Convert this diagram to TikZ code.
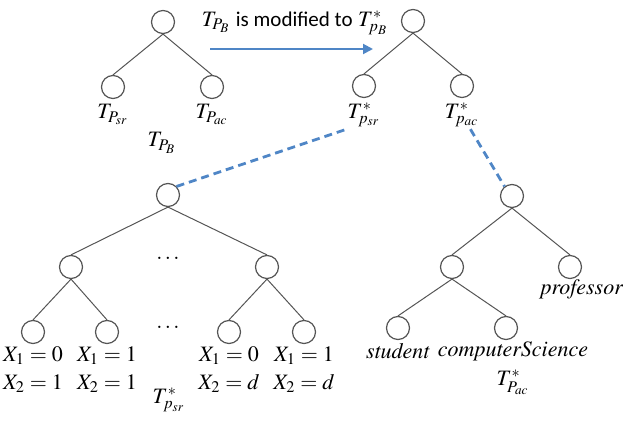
\documentclass[tikz,border=0pt]{standalone}
\usepackage{mathptmx}
\usepackage[no-math]{fontspec}
\setmainfont{Liberation Serif}
\newfontfamily\calibri{Carlito}
\usetikzlibrary{arrows.meta,positioning,calc}
\definecolor{edgegray}{RGB}{85,85,85}
\definecolor{linkblue}{RGB}{79,134,198}
\tikzset{
  nd/.style={circle, draw=edgegray, line width=0.6pt, minimum size=11.5pt, inner sep=0pt},
  br/.style={edgegray, line width=0.5pt},
  lab/.style={font=\fontsize{11}{13}\selectfont, inner sep=1pt},
  xlab/.style={lab, align=center},
  link/.style={linkblue, line width=1.4pt, dash pattern=on 4pt off 2.5pt},
  modarr/.style={-{Triangle[length=5pt,width=5pt]}, linkblue, line width=1pt},
}
\begin{document}
\begin{tikzpicture}[x=0.5pt, y=-0.5pt]
  \useasboundingbox (0,0) rectangle (623,432);
  % tree T_{P_B}
  \node[nd] (a0) at (163,22) {};
  \node[nd] (a1) at (113,87) {};
  \node[nd] (a2) at (212,87) {};
  \draw[br] (a0.south) -- (a1.north);
  \draw[br] (a0.south) -- (a2.north);
  \node[lab, below=1.5pt of a1] (lasr) {$T_{P_{sr}}$};
  \node[lab, below=1.5pt of a2] (laac) {$T_{P_{ac}}$};
  \node[lab] (lab0) at (162,143) {$T_{P_B}$};
  % modification arrow
  \coordinate (m0) at (210,49);
  \coordinate (m1) at (373,49);
  \draw[modarr] (m0) -- (m1);
  \node[lab] (mod) at (295,23) {$T_{P_B}$ {\calibri\fontsize{10.5}{12}\selectfont is modified to} $T^{*}_{p_B}$};
  % tree T*_{p_B}
  \node[nd] (b0) at (413,21) {};
  \node[nd] (b1) at (364,86) {};
  \node[nd] (b2) at (462,86) {};
  \draw[br] (b0.south) -- (b1.north);
  \draw[br] (b0.south) -- (b2.north);
  \node[lab, below=1pt of b1] (lbsr) {$T^{*}_{p_{sr}}$};
  \node[lab, below=1pt of b2] (lbac) {$T^{*}_{p_{ac}}$};
  % subtree T*_{p_sr}
  \node[nd] (s0) at (168,195) {};
  \node[nd] (s1) at (71,267) {};
  \node[nd] (s2) at (267,267) {};
  \node[nd] (s11) at (33,332) {};
  \node[nd] (s12) at (107,332) {};
  \node[nd] (s21) at (229,332) {};
  \node[nd] (s22) at (304,332) {};
  \draw[br] (s0.south) -- (s1.north);
  \draw[br] (s0.south) -- (s2.north);
  \draw[br] (s1.south) -- (s11.north);
  \draw[br] (s1.south) -- (s12.north);
  \draw[br] (s2.south) -- (s21.north);
  \draw[br] (s2.south) -- (s22.north);
  \node[lab] (dt1) at (168,258) {$\ldots$};
  \node[lab] (dt2) at (168,327) {$\ldots$};
  \node[xlab, below=0pt of s11] (x11) {$X_1=0$\\[1pt]$X_2=1$};
  \node[xlab, below=0pt of s12] (x12) {$X_1=1$\\[1pt]$X_2=1$};
  \node[xlab, below=0pt of s21] (x21) {$X_1=0$\\[1pt]$X_2=d$};
  \node[xlab, below=0pt of s22] (x22) {$X_1=1$\\[1pt]$X_2=d$};
  \node[lab] (lssr) at (169,400) {$T^{*}_{p_{sr}}$};
  % subtree T*_{P_ac}
  \node[nd] (c0) at (512,196) {};
  \node[nd] (c1) at (452,267) {};
  \node[nd] (c2) at (570,267) {};
  \node[nd] (c11) at (398,328) {};
  \node[nd] (c12) at (506,328) {};
  \draw[br] (c0.south) -- (c1.north);
  \draw[br] (c0.south) -- (c2.north);
  \draw[br] (c1.south) -- (c11.north);
  \draw[br] (c1.south) -- (c12.north);
  \node[lab] (prof) at (582,289) {$\mathit{professor}$};
  \node[lab] (stud) at (398,351) {$\mathit{student}$};
  \node[lab] (cs) at (513,351) {$\mathit{computerScience}$};
  \node[lab, below=2.5pt of cs] (lcac) {$T^{*}_{P_{ac}}$};
  % links to the modified tree
  \draw[link] (s0.45) -- (lbsr.-140);
  \draw[link] (lbac.-60) -- (c0.128);
\end{tikzpicture}
\end{document}
